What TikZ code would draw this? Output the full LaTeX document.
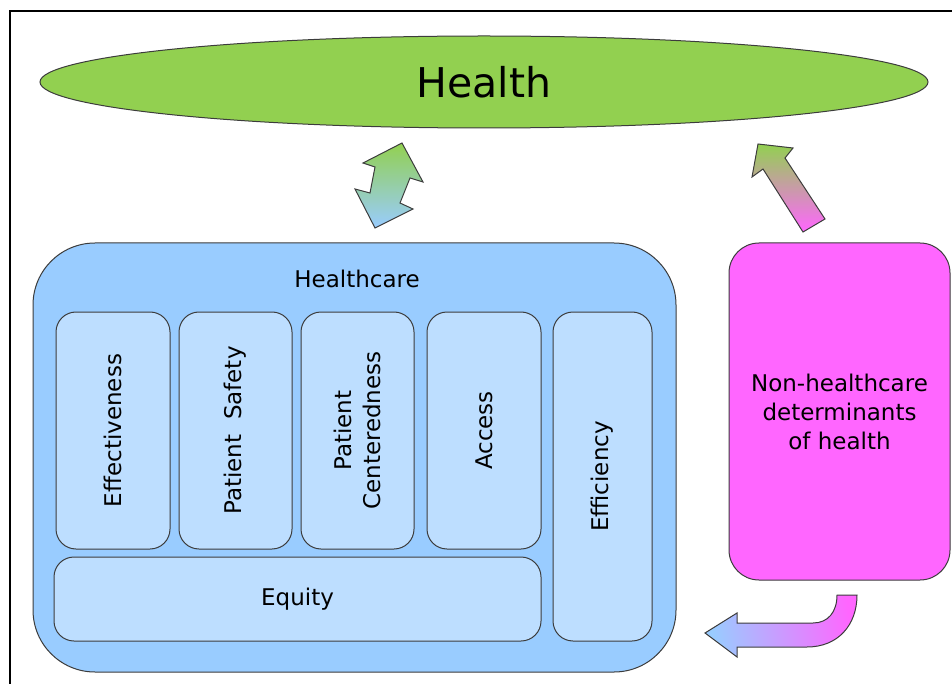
\documentclass[tikz,border=0pt]{standalone}
\usepackage{fontspec}
\setmainfont{DejaVu Sans}
\usetikzlibrary{shapes.geometric}
\definecolor{hgreen}{RGB}{146,208,80}
\definecolor{hblue}{RGB}{153,204,255}
\definecolor{hinner}{RGB}{189,222,255}
\definecolor{hmag}{RGB}{255,102,255}
\definecolor{hedge}{RGB}{60,60,60}
\tikzset{
  inbox/.style={draw=hedge, line width=1pt, fill=hinner, rounded corners=20pt, inner sep=0pt, align=center, font=\fontsize{23}{29}\selectfont},
  vlabel/.style={rotate=90, align=center, font=\fontsize{23}{29}\selectfont},
  shapearrow/.style={draw=hedge, line width=1pt, line join=miter}
}
\begin{document}
\begin{tikzpicture}[x=1pt,y=-1pt]
\useasboundingbox (0,0) rectangle (952,684);
% frame
\draw[line width=2pt] (952,11.5) -- (9.5,11.5) -- (9.5,684);
% Health ellipse
\node[ellipse, draw=hedge, line width=1pt, fill=hgreen, minimum width=888pt, minimum height=92pt, inner sep=0pt,
  font=\fontsize{41}{45}\selectfont] (health) at (484,82) {Health};
% Healthcare
\node[draw=hedge, line width=1pt, fill=hblue, rounded corners=62pt, minimum width=643pt, minimum height=429pt, inner sep=0pt] (hc) at (354.5,457.5) {};
\node[font=\fontsize{23}{29}\selectfont] (hctitle) at (357,279) {Healthcare};
% inner boxes
\node[inbox, minimum width=114pt, minimum height=237pt] (eff) at (113,430.5) {};
\node[vlabel] at (eff.center) {Effectiveness};
\node[inbox, minimum width=113pt, minimum height=237pt] (ps) at (235.5,430.5) {};
\node[vlabel] at (ps.center) {Patient\ \ Safety};
\node[inbox, minimum width=113pt, minimum height=237pt] (pc) at (357.5,430.5) {};
\node[vlabel] at (pc.center) {Patient\\Centeredness};
\node[inbox, minimum width=114pt, minimum height=237pt] (acc) at (484,430.5) {};
\node[vlabel] at (acc.center) {Access};
\node[inbox, minimum width=99pt, minimum height=329pt] (effi) at (602.5,476.5) {};
\node[vlabel] at (effi.center) {Efficiency};
\node[inbox, minimum width=487pt, minimum height=84pt] (eq) at (297.5,599) {Equity};
% non-healthcare
\node[draw=hedge, line width=1pt, fill=hmag, rounded corners=30pt, minimum width=221pt, minimum height=337pt, inner sep=0pt,
  align=center, font=\fontsize{23}{29}\selectfont] (nh) at (839.5,411.5) {Non-healthcare\\determinants\\of health};
% double arrow
\shadedraw[shapearrow, top color=hgreen, bottom color=hblue]
  (402,143) -- (423,182) -- (410,178) -- (400,203) -- (413,209) -- (375,228)
  -- (355,189) -- (370,193) -- (375,167) -- (363,163) -- cycle;
% arrow from non-healthcare to health
\shadedraw[shapearrow, top color=hgreen, bottom color=hmag]
  (758,144) -- (793,148) -- (785,158) -- (825,219) -- (803,232) -- (763,169) -- (752,177) -- cycle;
% curved arrow at bottom
\shadedraw[shapearrow, shading=axis, left color=hblue, right color=hmag, shading angle=100]
  (705,633) -- (737,613) -- (737,623) -- (813,623)
  .. controls (828,623) and (837,612) .. (837,595)
  -- (857,595)
  .. controls (857,625) and (838,647) .. (807,647)
  -- (737,647) -- (737,657) -- cycle;
\end{tikzpicture}
\end{document}
